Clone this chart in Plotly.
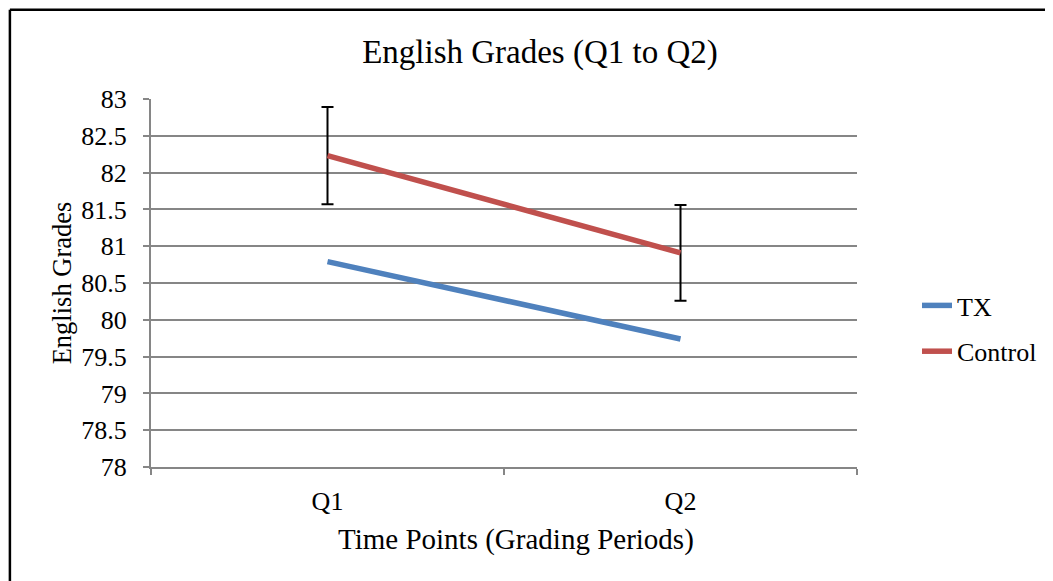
import plotly.graph_objects as go

categories = ["Q1", "Q2"]
tx_values = [80.79, 79.74]
control_values = [82.23, 80.91]
control_errors = [0.66, 0.65]
y_tick_values = [78, 78.5, 79, 79.5, 80, 80.5, 81, 81.5, 82, 82.5, 83]

FONT = "Liberation Serif"
OFF = 8  # page body margin
W, H = 1053 - OFF, 581 - OFF
L, R, T, B = 151 - OFF, 858 - OFF, 99 - OFF, 467 - OFF

fig = go.Figure()
fig.add_trace(go.Scatter(
    x=categories, y=tx_values, name="TX", mode="lines",
    line=dict(color="#4F81BD", width=5.5), legendgroup="a",
))
fig.add_trace(go.Scatter(
    x=categories, y=control_values, name="Control", mode="lines",
    line=dict(color="#C0504D", width=5.5), legendgroup="b",
    error_y=dict(type="data", array=control_errors, visible=True,
                 color="black", thickness=2, width=6),
))

def px_x(p):
    return (p - OFF - L) / (R - L)

def px_y(p):
    return (B - (p - OFF)) / (B - T)

fig.update_layout(
    width=W, height=H, autosize=False,
    margin=dict(l=L, r=W - R, t=T, b=H - B, pad=0),
    paper_bgcolor="white", plot_bgcolor="white",
    font=dict(family=FONT, size=26, color="black"),
    title=dict(text="English Grades (Q1 to Q2)", font=dict(size=33, family=FONT, color="black"),
               xref="paper", x=px_x(540.5), xanchor="center",
               yref="container", y=1 - (51 - OFF) / H, yanchor="middle"),
    showlegend=True,
    legend=dict(x=px_x(917), xanchor="left", y=px_y(328.5), yanchor="middle",
                font=dict(size=26, family=FONT, color="black"),
                tracegroupgap=9, bgcolor="rgba(0,0,0,0)"),
    xaxis=dict(type="category", range=[-0.5, 1.5], showgrid=False,
               showline=True, linecolor="#868686", linewidth=2,
               ticks="outside", tickson="boundaries", ticklen=6, tickcolor="#868686", tickwidth=2,
               tickfont=dict(size=26, family=FONT, color="black"),
               ticklabelstandoff=10,
               zeroline=False, fixedrange=True),
    yaxis=dict(range=[78, 83], tickvals=y_tick_values, showgrid=True, gridcolor="#868686", gridwidth=2,
               showline=True, linecolor="#868686", linewidth=2,
               ticks="outside", ticklen=6, tickcolor="#868686", tickwidth=2,
               tickfont=dict(size=26, family=FONT, color="black"),
               ticklabelstandoff=11,
               title=dict(text="English Grades", font=dict(size=26.5, family=FONT, color="black"), standoff=2),
               zeroline=False, fixedrange=True),
    annotations=[
        dict(text="Time Points (Grading Periods)", xref="paper", yref="paper",
             x=px_x(516.5), y=px_y(539), xanchor="center", yanchor="middle",
             showarrow=False, font=dict(size=29, family=FONT, color="black")),
    ],
    shapes=[
        dict(type="line", xref="paper", yref="paper", x0=px_x(9.7), x1=px_x(9.7), y0=px_y(9.7), y1=px_y(700),
             line=dict(color="black", width=2.5)),
        dict(type="line", xref="paper", yref="paper", x0=px_x(9.7), x1=px_x(1200), y0=px_y(9.7), y1=px_y(9.7),
             line=dict(color="black", width=2.5)),
    ],
)

fig.write_html("out.html")
